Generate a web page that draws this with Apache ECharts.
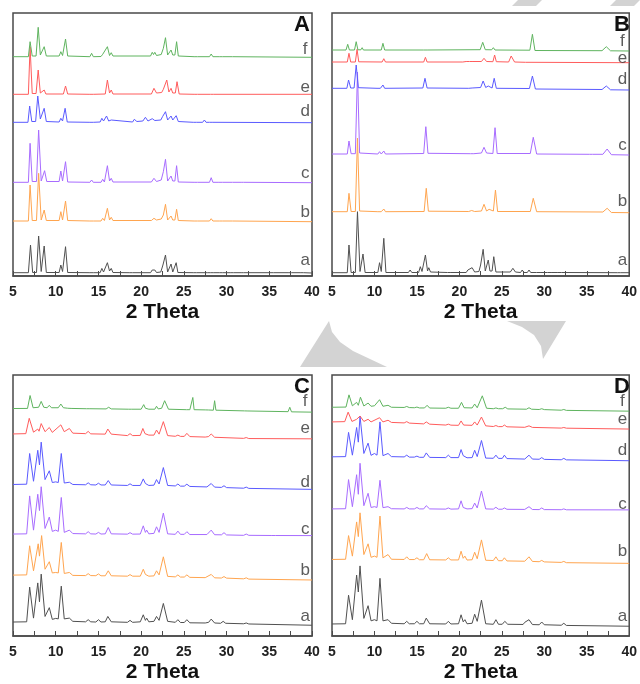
<!DOCTYPE html>
<html><head><meta charset="utf-8">
<script src="https://cdn.jsdelivr.net/npm/echarts@6/dist/echarts.min.js"></script>
<style>html,body{margin:0;padding:0;background:#fff}#c{width:640px;height:684px}</style>
</head><body><div id="c"></div>
<script>
// ---------- DATA (2 Theta, stacked intensity in arbitrary units) ----------
const panelNames = ['A','B','C','D'];
const traceNames = ['a','b','c','d','e','f'];
const xTickLabels = [5,10,15,20,25,30,35,40];
const traceColors = ['#505050','#ffa54f','#a86cff','#5a5aff','#ff5c5c','#5fb45f'];
const labelX = 39.2;
const labelY_A = [16, 63.3, 102.7, 164.3, 188.7, 226.7];
const labelY_B = [16, 74.3, 131, 196.7, 217.7, 234.3];
const labelY_C = [20, 66.7, 109, 157.7, 212.3, 240];
const labelY_D = [20, 86.7, 134.3, 190, 221.7, 240];
const yMax = [263, 263, 267, 267];

// Panel A
const A_a = [5,3.3, 6.8,3.3, 7.05,31, 7.3,3.5, 7.75,3.5, 8.0,40, 8.3,4.5, 8.65,30, 8.9,3.5, 10.4,3.5, 10.6,11, 10.8,4.5, 11.15,29.3, 11.4,3.5, 14.0,3.3, 14.2,5.3, 14.4,3.3, 15.2,3.3, 15.4,7.6, 15.6,4, 16.05,13.3, 16.3,5, 16.5,7.6, 16.7,3.5, 18.6,3.3, 18.8,4.3, 19.0,3.3, 21.1,3.3, 21.3,6, 21.45,4.5, 21.6,6, 21.8,3.5, 22.3,4, 22.55,11, 22.7,9, 22.85,21, 23.1,4, 23.3,4, 23.5,12, 23.7,4, 23.9,4, 24.1,13.3, 24.3,3.5, 26.1,3.3, 26.3,5.3, 26.5,3.3, 27.5,3.3, 27.6,4.6, 27.8,3.3, 28.1,3.3, 28.3,5.3, 28.5,3.3, 29.2,3.3, 29.3,4.6, 29.5,3.3, 30.5,3.3, 30.6,4.3, 30.8,3.3, 31.7,3.3, 31.8,4.3, 32,3.3, 35.2,3.3, 35.3,4, 35.5,3.3, 37.3,3.3, 37.4,4.3, 37.6,3.3, 38.7,3.3, 38.8,4.3, 39,3.3, 40,3];
const A_b = [5,55, 6.8,55, 7.0,91, 7.25,55.5, 7.75,55.5, 8.0,102.7, 8.3,56, 8.65,66, 8.9,55.5, 10.4,55.5, 10.6,64.3, 10.8,56, 11.15,75, 11.4,55.5, 14.0,55, 14.2,56.7, 14.4,55, 15.3,55, 15.5,57.7, 15.7,55.5, 16.05,67.7, 16.3,56, 16.5,58.7, 16.7,55.5, 21.2,55.5, 21.5,57.7, 21.8,56, 22.35,57, 22.6,61, 22.7,60, 22.85,71.7, 23.1,56, 23.3,56, 23.5,60, 23.7,56, 23.95,56, 24.15,66.7, 24.35,55.5, 26.2,55, 26.4,56.7, 26.6,55, 28.0,55, 28.2,57.3, 28.4,55, 29.2,55, 29.3,56, 29.5,55, 30.4,55, 30.5,56, 30.7,55, 40,54.3];
const A_c = [5,93.7, 6.8,93.7, 7.0,132.7, 7.25,94.5, 7.75,94.5, 8.0,146, 8.3,95, 8.7,105.3, 8.95,94.5, 10.4,94.5, 10.6,105, 10.8,95, 11.15,114.3, 11.4,94, 14.0,93.7, 14.2,96, 14.4,93.7, 15.3,93.7, 15.5,96.7, 15.7,94, 16.05,110.3, 16.3,95, 16.5,97.7, 16.7,94, 21.2,94, 21.5,97.7, 21.8,94.5, 22.35,96, 22.6,104.3, 22.7,103, 22.85,116.7, 23.1,95, 23.3,95, 23.5,100, 23.7,95, 23.95,95, 24.15,110.3, 24.35,94, 26.2,93.7, 26.4,95.3, 26.6,93.7, 28.0,93.7, 28.2,98.3, 28.4,93.7, 29.1,93.7, 29.3,95.3, 29.5,93.7, 30.4,93.7, 30.5,95, 30.7,93.7, 31.7,93.7, 31.8,95, 32,93.7, 40,93.3];
const A_d = [5,153.7, 6.75,153.7, 6.95,170, 7.2,154.5, 7.65,154.5, 7.9,180, 8.2,157, 8.65,167.7, 8.9,154.5, 10.4,154, 10.6,157.7, 10.8,155, 11.1,167.7, 11.35,154, 14.0,153.7, 14.2,155.3, 14.4,153.7, 15.2,154, 15.4,157.7, 15.6,155, 15.95,160, 16.2,155, 16.5,156, 16.7,154, 19.0,154, 19.2,156.7, 19.5,154.5, 20.2,155, 20.5,158.7, 20.8,155, 21.3,157.3, 21.6,155.5, 22.3,156, 22.5,159.3, 22.65,158, 22.85,164.3, 23.1,156, 23.3,156, 23.5,160, 23.7,156, 23.9,156, 24.1,160.3, 24.35,154.5, 26.1,153.7, 26.3,155, 26.5,153.7, 27.2,153.7, 27.4,156, 27.6,153.7, 28.0,153.7, 28.2,155.3, 28.4,153.7, 40,153.3];
const A_e = [5,181.7, 6.8,181.7, 7.0,229.3, 7.25,182.5, 7.7,182.5, 7.95,206, 8.2,183, 8.65,186, 8.85,182, 10.9,182, 11.15,190, 11.4,182, 14.0,181.7, 14.2,183.7, 14.4,181.7, 15.8,182, 16.05,196, 16.3,183, 16.5,186, 16.7,182, 21.2,182, 21.5,187.7, 21.8,183, 22.4,183.5, 22.6,186.7, 22.75,185, 23.0,196, 23.25,184, 23.5,187.7, 23.7,183, 24.0,183, 24.2,194.3, 24.45,182, 26.2,181.7, 26.4,183.3, 26.6,181.7, 28.1,181.7, 28.3,183.3, 28.5,181.7, 40,181.7];
const A_f = [5,219.3, 6.8,219.3, 7.0,234.3, 7.25,220, 7.7,220, 7.95,248.7, 8.2,221, 8.65,229.3, 8.9,220, 10.4,220, 10.6,224.3, 10.8,220.5, 11.15,237, 11.4,220, 14.0,219.3, 14.2,222.7, 14.4,219.3, 15.3,219.5, 15.5,221.7, 15.7,220, 16.05,229.3, 16.3,220.5, 16.5,223.3, 16.7,220, 21.1,220, 21.3,223.7, 21.45,221.5, 21.6,223.7, 21.8,220.5, 22.35,221.5, 22.6,227.7, 22.7,226, 22.85,238.3, 23.1,221, 23.3,221, 23.5,226, 23.7,221, 23.95,221, 24.15,234.3, 24.35,220, 26.2,219.3, 26.4,220.7, 26.6,219.3, 28.0,219.3, 28.2,222, 28.4,219.3, 29.2,219.3, 29.3,220.5, 29.5,219.3, 30.4,219.3, 30.5,220.5, 30.7,219.3, 40,218.7];

// Panel B
const B_a = [5,3.3, 6.8,3.3, 7.0,31, 7.25,3.5, 7.75,3.5, 8.0,64.3, 8.3,4.5, 8.65,22, 8.9,3.5, 10.4,3.5, 10.6,13.3, 10.8,4.5, 11.1,37.7, 11.35,3.5, 14.0,3.5, 14.2,6, 14.4,3.5, 15.2,3.5, 15.4,9.3, 15.6,4.5, 16.0,21, 16.25,5, 16.4,8.3, 16.6,4, 18.6,3.5, 18.8,5.3, 19.0,3.5, 20.8,3.5, 21.0,6, 21.2,4.5, 21.5,8.3, 21.8,4, 22.3,4.5, 22.5,11, 22.6,9, 22.8,26.7, 23.05,5, 23.2,5, 23.4,16, 23.6,5, 23.85,5, 24.05,19.3, 24.3,4, 26.0,4, 26.3,7.7, 26.6,4, 27.2,3.5, 27.4,6, 27.6,3.5, 28.0,3.5, 28.2,6, 28.4,3.5, 29.1,3.5, 29.3,5, 29.5,3.5, 30.4,3.5, 30.6,5.3, 30.8,3.5, 31.6,3.5, 31.8,5, 32.0,3.5, 38.6,3.3, 38.8,4.3, 39.0,3.3, 40,3.3];
const B_b = [5,64.3, 6.8,64.3, 7.0,82.7, 7.25,64.5, 7.75,64.5, 8.0,138, 8.25,65, 10.4,64.3, 10.6,66, 10.8,64.3, 10.95,64.3, 11.1,67, 11.3,64.3, 15.85,64.5, 16.1,87.7, 16.35,64.8, 21.1,64.5, 21.3,66, 21.45,65.5, 21.6,66.7, 21.8,64.5, 22.6,65, 22.9,71.7, 23.2,65, 23.35,65, 23.5,66.7, 23.7,65, 24.0,65, 24.25,86, 24.5,64.5, 28.35,64.5, 28.7,77.7, 29.1,64.3, 36.9,64, 37.4,67.7, 37.9,63.5, 40,63.3];
const B_c = [5,122, 6.8,122, 7.0,135, 7.25,122.3, 7.75,122.3, 8.0,204, 8.25,123, 10.4,122, 10.6,124.3, 10.8,122, 10.95,122, 11.1,125, 11.3,122, 15.8,122.5, 16.05,149.3, 16.3,122.7, 21.3,122.3, 21.5,124.3, 21.7,122.3, 22.6,123, 22.9,128.7, 23.2,123, 23.95,122.5, 24.2,148.3, 24.45,122.5, 28.35,122.5, 28.7,138.7, 29.1,122, 35.3,121.7, 35.5,123.3, 35.7,121.7, 36.9,121.7, 37.4,127, 37.9,121.3, 40,121];
const B_d = [5,187.7, 6.75,187.7, 6.95,196, 7.2,188, 7.6,188, 7.85,211, 8.1,188.3, 10.3,187.7, 10.5,189.3, 10.7,187.7, 10.85,187.7, 11.0,191, 11.2,187.7, 15.7,188, 15.95,197.7, 16.2,188, 21.1,187.7, 21.3,189.3, 21.5,188, 22.5,188.5, 22.8,195, 23.1,188.5, 23.25,188.5, 23.4,190, 23.6,188.5, 23.85,188, 24.1,197.7, 24.35,187.7, 28.25,187.5, 28.6,200, 28.95,187, 36.8,186.5, 37.3,190, 37.8,186.2, 40,186];
const B_e = [5,214, 6.8,214, 7.0,222.7, 7.2,214, 7.75,214, 7.95,226.7, 8.15,214.2, 10.9,214, 11.1,217.3, 11.3,214, 15.8,214, 16.0,218.7, 16.2,214, 20.4,214, 20.6,216, 20.8,214.5, 21.2,214.5, 21.4,216, 21.6,214.5, 22.6,214.5, 22.9,217.7, 23.2,214.5, 23.95,214.3, 24.15,221, 24.35,214.3, 25.8,214, 26.1,220, 26.5,214, 27.8,213.7, 28.0,214.7, 28.2,213.7, 40,213.3];
const B_f = [5,226, 6.65,226, 6.85,231.7, 7.05,226, 7.65,226, 7.85,234.3, 8.05,226.2, 8.4,226.2, 8.55,228.3, 8.7,226, 10.8,226, 11.0,232.7, 11.2,226, 15.8,226, 16.0,227.7, 16.2,226, 22.45,226.3, 22.75,233.7, 23.05,226.3, 23.8,226.2, 24.0,228.3, 24.2,226, 28.3,225.8, 28.6,241.7, 28.9,225.5, 36.8,225.3, 37.3,229.3, 37.8,225.2, 40,225];

// Panel C
const C_a = [5,14.3, 6.6,14.5, 6.95,50, 7.4,18.3, 7.9,54.3, 8.1,35, 8.3,63.3, 8.75,20, 9.25,29, 9.6,17, 10.0,18, 10.3,17.5, 10.65,51, 11.0,17.5, 11.6,18.3, 12.0,15, 13.5,14.5, 13.8,16.7, 14.1,14.5, 14.7,14.3, 15.0,16.7, 15.3,14.3, 15.8,14.5, 16.1,20, 16.5,14.5, 18.4,14, 18.7,16, 19.0,14, 19.9,14.5, 20.25,21.7, 20.5,16, 20.65,18.3, 20.9,14.5, 21.5,15, 21.8,20, 22.1,16, 22.6,33.3, 23.1,15, 24.0,14, 24.3,16.7, 24.6,13.8, 25.05,13.8, 25.35,16.7, 25.7,13.5, 27.5,13.3, 27.7,14.5, 27.9,14, 28.2,17.3, 28.6,13.3, 29.3,13, 29.6,15, 29.9,13, 32.0,12.5, 32.3,13.3, 32.6,12.3, 40,11];
const C_b = [5,62.3, 6.6,62.5, 6.95,92.3, 7.4,66.7, 7.95,94.3, 8.1,81.7, 8.35,102.7, 8.75,68.3, 9.25,76, 9.6,64.5, 10.0,65, 10.3,64.5, 10.65,95.7, 11.0,64, 11.6,65, 12.0,62, 13.5,61.8, 13.8,63.8, 14.1,61.8, 14.7,61.7, 15.0,63.5, 15.3,61.6, 15.8,61.6, 16.15,66.7, 16.5,61.6, 18.4,61.2, 18.7,62.8, 19.0,61.2, 19.9,61.2, 20.25,68.3, 20.5,63, 20.65,64, 20.9,61.2, 21.5,61.5, 21.8,66.7, 22.1,62.5, 22.6,81, 23.1,61, 24.0,60.5, 24.3,62.5, 24.6,60.3, 25.05,60.3, 25.35,62.5, 25.7,60, 27.5,59.7, 28.2,63, 28.6,59.5, 29.4,59.3, 29.7,60.8, 30.0,59.2, 32.0,58.5, 32.3,59.5, 32.6,58.2, 40,57.3];
const C_c = [5,104.3, 6.6,104.5, 6.95,143.3, 7.4,108.3, 7.9,145, 8.1,128.3, 8.3,152.7, 8.75,110, 9.25,121.7, 9.6,107, 10.0,108.3, 10.3,107, 10.65,141.7, 11.0,106, 11.6,108.3, 12.0,104.8, 13.5,104.5, 13.8,106.7, 14.1,104.5, 14.7,104.3, 15.0,106, 15.3,104.3, 15.8,104.5, 16.15,111, 16.5,104.5, 18.4,104.2, 18.7,105.7, 19.0,104.2, 19.9,104.3, 20.25,112.7, 20.5,106, 20.65,108.3, 20.9,104.5, 21.5,105, 21.8,111.7, 22.1,106, 22.6,125.7, 23.1,104.5, 24.0,104, 24.3,107.3, 24.6,104, 25.05,104, 25.35,106.7, 25.7,103.8, 27.7,103.8, 28.2,108.3, 28.6,103.6, 29.4,103.5, 29.7,105.7, 30.0,103.4, 32.0,103, 32.3,104.3, 32.6,103, 35.3,102.8, 35.5,104, 35.7,102.8, 40,102.7];
const C_d = [5,155, 6.6,155.3, 6.95,186.7, 7.4,158.3, 7.9,190, 8.1,175, 8.3,198.3, 8.75,160, 9.25,169, 9.6,157, 10.0,157.7, 10.3,157, 10.65,186.7, 11.0,156.5, 11.6,157.3, 12.0,155, 13.5,154.7, 13.8,156.7, 14.1,154.7, 14.7,154.5, 15.0,156.3, 15.3,154.5, 15.8,154.5, 16.15,159, 16.5,154.5, 18.4,154, 18.7,155.7, 19.0,154, 19.9,154, 20.25,160.7, 20.5,156, 20.65,156.7, 20.9,154, 21.5,154.3, 21.8,160, 22.1,155.5, 22.6,172.3, 23.1,154, 24.0,153.5, 24.3,155.5, 24.6,153.3, 25.05,153.3, 25.35,155.3, 25.7,153, 27.7,152.5, 28.2,156, 28.6,152.3, 29.4,152, 29.7,153.7, 30.0,151.8, 32.0,151.2, 32.3,152.3, 32.6,151, 40,150];
const C_e = [5,206.7, 6.5,207, 6.9,222.7, 7.4,208.5, 7.9,211.7, 8.05,209.5, 8.3,217.3, 8.75,209, 9.25,213.3, 9.6,208.3, 10.6,216, 11.0,209, 11.6,212.3, 12.0,207.5, 13.5,207, 13.8,209.3, 14.1,206.8, 15.8,206.5, 16.1,211.7, 16.5,206.5, 18.4,205, 18.7,207, 19.0,205, 19.9,205.2, 20.2,212.3, 20.45,207, 20.65,208.3, 20.9,205.5, 21.5,205.5, 21.8,210.7, 22.1,206.5, 22.6,219.3, 23.1,205, 24.0,204.3, 24.3,205.5, 24.6,204.2, 25.05,204.2, 25.35,207.3, 25.7,204, 27.5,203.5, 27.7,204.5, 27.9,204, 28.2,206.7, 28.6,203.3, 32.0,202.2, 32.3,203, 32.6,202, 40,201.7];
const C_f = [5,232.7, 6.7,232.8, 7.0,246, 7.35,233.5, 8.0,234, 8.3,240, 8.6,234, 9.0,233.5, 9.25,236, 9.5,233.5, 10.3,233.5, 10.6,237.3, 10.9,233.5, 11.4,233, 11.6,234.3, 11.8,232.8, 13.6,232.5, 13.8,233.5, 14.0,232.5, 15.9,232.3, 16.2,234, 16.5,232.3, 18.5,232, 18.7,233, 18.9,232, 20.0,232, 20.3,236.7, 20.5,233, 20.65,234, 20.9,232, 21.6,232, 21.8,235, 22.0,232.3, 22.4,233, 22.75,240.7, 23.2,232, 25.3,231.5, 25.5,232.7, 25.7,231.5, 25.9,231.5, 26.05,244, 26.2,231.5, 27.5,231.3, 27.7,232.3, 27.9,231.2, 28.45,231, 28.6,240.7, 28.75,231, 32.1,230.3, 32.3,231, 32.5,230.2, 37.2,229.5, 37.4,234, 37.6,229.3, 40,229];

// Panel D
const D_a = [5,12.3, 6.6,12.5, 6.95,41.7, 7.4,16.7, 7.9,62.3, 8.1,45, 8.3,71.7, 8.75,18, 9.25,31, 9.6,15.5, 10.0,16.7, 10.3,15.5, 10.65,59, 11.0,15.5, 11.6,16.7, 12.0,13, 13.5,12.5, 13.8,15, 14.1,12.5, 14.7,12.5, 15.0,15, 15.3,12.5, 15.8,12.5, 16.1,18.3, 16.5,12.5, 18.4,12.3, 18.7,15, 19.0,12.3, 19.9,12.5, 20.2,21.7, 20.45,14.5, 20.65,16.7, 20.9,12.5, 21.5,13, 21.8,22.3, 22.1,15, 22.6,36.7, 23.1,12.5, 24.0,12, 24.3,16.7, 24.6,12, 25.05,12, 25.35,15, 25.7,12, 27.5,11.8, 27.7,14, 27.9,12.5, 28.2,16.7, 28.6,11.7, 29.4,11.5, 29.7,14.3, 30.0,11.5, 32.0,11, 32.3,13, 32.6,10.8, 40,10];
const D_b = [5,78.3, 6.6,78.5, 6.95,102.7, 7.4,81.7, 7.9,116.7, 8.1,101.7, 8.3,126, 8.75,83.3, 9.25,94.3, 9.6,80.5, 10.0,81.7, 10.3,80.5, 10.65,122.7, 11.0,80, 11.6,83.3, 12.0,78.5, 13.5,78.3, 13.8,81, 14.1,78.2, 14.7,78.2, 15.0,80, 15.3,78, 15.8,78, 16.15,84.3, 16.5,78, 18.4,77.8, 18.7,80, 19.0,77.8, 19.9,77.8, 20.2,86.7, 20.45,79.5, 20.65,81.7, 20.9,77.7, 21.5,78, 21.8,85.7, 22.1,79, 22.6,98.3, 23.1,77.5, 24.0,77.2, 24.3,81, 24.6,77, 25.05,77, 25.3,80, 25.6,76.8, 27.7,76.5, 28.2,81, 28.6,76.3, 29.4,76, 29.7,77.3, 30.0,75.8, 32.0,75.3, 32.3,76.3, 32.6,75, 40,74.3];
const D_c = [5,130, 6.6,130.2, 6.95,160, 7.4,132.3, 7.9,165, 8.1,145, 8.3,176.7, 8.75,133.3, 9.25,146, 9.6,131.5, 10.0,132.3, 10.3,131.5, 10.65,159.3, 11.0,131.3, 11.6,132.3, 12.0,130.2, 13.5,130, 13.8,131.5, 14.1,130, 14.7,130, 15.0,131.5, 15.3,130, 15.8,130, 16.1,133.3, 16.5,130, 18.4,129.8, 18.7,131, 19.0,129.8, 19.9,130, 20.2,138.3, 20.45,131.5, 20.65,132.3, 20.9,130, 21.5,130.3, 21.8,136, 22.1,131, 22.6,148.3, 23.1,130, 24.0,129.8, 24.3,131.7, 24.6,129.7, 25.05,129.7, 25.3,131, 25.6,129.6, 27.7,129.5, 28.2,132.3, 28.6,129.4, 29.4,129.3, 29.7,131, 30.0,129.3, 32.0,129.2, 32.3,130, 32.6,129.1, 40,129];
const D_d = [5,183.3, 6.6,183.5, 6.95,208.3, 7.4,185, 7.9,213.3, 8.1,198.3, 8.3,225, 8.75,186.7, 9.25,197.3, 9.6,184.8, 10.0,186.7, 10.3,185, 10.65,219, 11.0,184.5, 11.6,186.7, 12.0,183.5, 13.5,183.2, 13.8,185, 14.1,183, 14.7,183, 15.0,184, 15.3,182.8, 15.8,182.8, 16.1,187.3, 16.5,182.7, 18.4,182.5, 18.7,185, 19.0,182.5, 19.9,182.5, 20.2,190.7, 20.45,184.5, 20.65,186, 20.9,182.3, 21.5,182.5, 21.8,190, 22.1,183.5, 22.6,200, 23.1,182, 24.0,181.8, 24.3,185, 24.6,181.7, 25.05,181.7, 25.3,185, 25.6,181.5, 27.7,181, 28.2,185, 28.6,181, 29.4,180.8, 29.7,182.5, 30.0,180.7, 32.0,180.3, 32.3,181.7, 32.6,180.2, 40,179.3];
const D_e = [5,219, 6.5,219.3, 6.9,229, 7.35,219.5, 7.9,221.7, 8.05,220.5, 8.3,225, 8.75,219.5, 9.25,221.7, 9.6,219, 10.6,223.3, 11.0,219, 11.6,220.7, 12.0,218.5, 13.5,218, 13.8,219.3, 14.1,217.8, 15.8,217, 16.1,219, 16.5,216.7, 18.4,215.8, 18.7,216.7, 19.0,215.7, 19.9,215.5, 20.2,220, 20.5,215.8, 21.5,215.5, 21.8,219, 22.1,215.8, 22.6,224, 23.1,215, 24.0,214.3, 24.3,215.3, 24.6,214.2, 25.05,214.2, 25.3,215.8, 25.6,214, 27.7,213.5, 28.2,215, 28.6,213.4, 32.0,212.7, 32.3,213.3, 32.6,212.6, 40,211.7];
const D_f = [5,234, 6.65,234.2, 7.0,246.7, 7.4,235.5, 7.9,239, 8.1,236, 8.35,244.3, 8.75,235.3, 9.25,238.3, 9.6,235, 10.0,235.5, 10.6,241.7, 11.0,235, 11.6,236, 12.0,234, 13.5,233.8, 13.8,234.8, 14.1,233.7, 14.7,233.5, 15.0,234.2, 15.3,233.3, 15.9,233.3, 16.2,236, 16.5,233.2, 18.4,233, 18.7,234, 19.0,233, 19.9,233, 20.25,239, 20.55,233.5, 21.5,233.3, 21.8,237.3, 22.1,233.5, 22.7,245.7, 23.2,233, 24.0,232.5, 24.3,233.3, 24.6,232.5, 25.1,232.5, 25.4,234, 25.7,232.3, 27.9,232, 28.2,233.5, 28.5,232, 29.4,231.7, 29.7,232.5, 30.0,231.6, 32.0,231, 32.3,231.7, 32.6,230.8, 40,230];

const panelTraces = [
  [A_a, A_b, A_c, A_d, A_e, A_f],
  [B_a, B_b, B_c, B_d, B_e, B_f],
  [C_a, C_b, C_c, C_d, C_e, C_f],
  [D_a, D_b, D_c, D_d, D_e, D_f]
];
const panelLabelY = [labelY_A, labelY_B, labelY_C, labelY_D];

// ---------- CHART ----------
function pairs(flat){ const out=[]; for(let i=0;i<flat.length;i+=2) out.push([flat[i],flat[i+1]]); return out; }

const gridBoxes = [
  {left:13, top:13, width:299, height:263},
  {left:332, top:13, width:300, height:263},
  {left:13, top:375, width:299, height:267},
  {left:332, top:375, width:300, height:267}
];
const FONT = 'Arial, "Liberation Sans", sans-serif';

const grids = gridBoxes.map(g => Object.assign({show:true, borderColor:'#4a4a4a', borderWidth:1.5, backgroundColor:'#fff', containLabel:false}, g));
const xAxes = gridBoxes.map((g,i) => ({
  type:'value', gridIndex:i, min:5, max:40, interval:5,
  axisLine:{show:true, onZero:false, lineStyle:{color:'#4a4a4a', width:1.5}},
  axisTick:{show:true, inside:true, length:5, lineStyle:{color:'#4a4a4a'}},
  minorTick:{show:true, splitNumber:2, length:5, lineStyle:{color:'#4a4a4a'}},
  splitLine:{show:false},
  axisLabel:{show:true, margin:9, fontFamily:FONT, fontWeight:'bold', fontSize:14, color:'#222',
    showMinLabel:true, showMaxLabel:true,
    formatter: v => xTickLabels.includes(v) ? String(v) : ''},
  name:'2 Theta', nameLocation:'middle', nameGap:26,
  nameTextStyle:{fontFamily:FONT, fontWeight:'bold', fontSize:21, color:'#111'}
}));
const yAxes = gridBoxes.map((g,i) => ({type:'value', gridIndex:i, min:0, max:yMax[i], show:false}));

const series = [];
panelTraces.forEach((traces, p) => {
  traces.forEach((flat, t) => {
    series.push({
      type:'line', name:panelNames[p]+traceNames[t], xAxisIndex:p, yAxisIndex:p,
      data:pairs(flat), showSymbol:false, symbol:'none', smooth:false,
      lineStyle:{color:traceColors[t], width:1}, z:2+t
    });
  });
  series.push({
    type:'scatter', xAxisIndex:p, yAxisIndex:p, symbolSize:1,
    itemStyle:{color:'rgba(0,0,0,0)'}, z:20, silent:true,
    data: traceNames.map((n,t) => [labelX, panelLabelY[p][t], n]),
    label:{show:true, position:'inside', formatter: q => q.data[2],
      fontFamily:FONT, fontSize:17, color:'#333'}
  });
});

const grey = '#d3d3d3';
const graphic = [
  {type:'polygon', z:-5, shape:{points:[[300,367],[329,321],[332,332],[340,342],[353,351],[370,359],[387,367]]}, style:{fill:grey}},
  {type:'polygon', z:-5, shape:{points:[[507,321],[566,321],[543,359],[541,346],[534,335],[522,327]]}, style:{fill:grey}},
  {type:'polygon', z:-5, shape:{points:[[518,0],[542,0],[536,6],[512,6]]}, style:{fill:grey}},
  {type:'polygon', z:-5, shape:{points:[[616,0],[640,0],[634,6],[610,6]]}, style:{fill:grey}}
];
gridBoxes.forEach((g,i) => {
  graphic.push({type:'text', z:30, right: 640 - (g.left + g.width) + 2, top: g.top + 1,
    style:{text:panelNames[i], font:'bold 22px ' + FONT, fill:'#111'}});
});

const chart = echarts.init(document.getElementById('c'), null, {renderer:'canvas'});
chart.setOption({animation:false, backgroundColor:'#fff', grid:grids, xAxis:xAxes, yAxis:yAxes, series:series, graphic:graphic});
</script></body></html>
